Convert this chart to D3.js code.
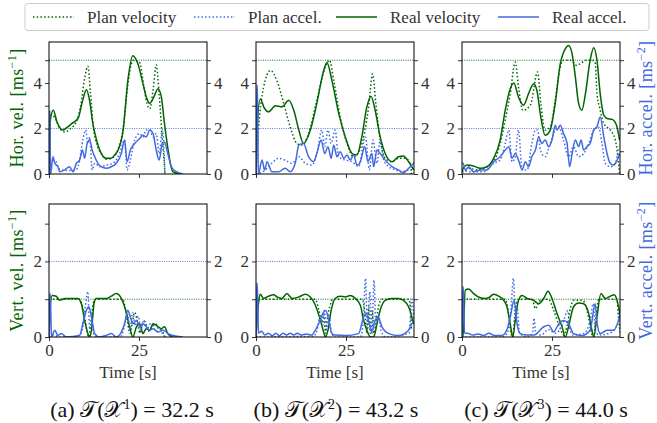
<!DOCTYPE html>
<html>
<head>
<meta charset="utf-8">
<script src="https://cdn.jsdelivr.net/npm/d3@7"></script>
<style>
  body { margin: 0; background: #fff; }
</style>
</head>
<body>
<svg id="chart" width="657" height="423"></svg>
<script>
// ---- data: [time (s), value] ----
// (a) horizontal
const planVelA = [[0,0],[0.3,2.6],[1.5,2.5],[3,2.0],[4.4,1.85],[6,2.0],[7.6,2.3],[8.8,3.0],[10.0,4.3],[10.8,4.73],[11.5,3.6],[12.3,2.1],[13.3,1.3],[14.5,0.9],[16,0.65],[17.5,0.7],[19.2,1.1],[20.6,2.0],[21.9,3.9],[22.8,4.8],[23.5,5.0],[25.2,4.9],[26.3,3.9],[27.2,3.1],[28.0,2.87],[29.0,3.8],[29.8,4.8],[30.6,3.5],[31.5,1.5],[32.1,0.3],[32.2,0]];
const realVelA = [[0,0],[0.4,2.4],[1.2,2.8],[2.2,2.3],[3.9,1.93],[5.0,2.05],[6.2,2.2],[8.1,2.45],[9.3,3.2],[10.4,3.7],[11.2,3.3],[12.2,2.2],[13.2,1.5],[14.1,1.05],[15.9,0.69],[17.3,0.69],[18.3,0.85],[19.2,1.05],[20.6,1.93],[21.9,4.1],[23.3,5.2],[24.7,4.84],[26.1,3.97],[27.2,3.3],[28.0,3.1],[28.9,3.3],[30.3,3.75],[31.2,3.4],[32.1,2.2],[33.1,1.05],[34.4,0.1],[36.3,0]];
const planAccA = [[0,0.6],[1.6,0.6],[3.0,0.2],[5,0.15],[7.6,0.2],[8.5,0.6],[9.4,1.5],[10.2,1.93],[10.8,1.34],[11.3,1.63],[12.0,0.18],[12.7,0.47],[14.1,0.32],[15.9,0.39],[17.8,0.47],[19.6,0.9],[21.0,1.49],[21.7,0.18],[22.6,0.61],[23.8,1.49],[25.2,1.78],[26.1,1.63],[27.0,1.93],[28.0,1.93],[28.9,1.63],[29.8,1.78],[30.6,0.9],[31.5,1.93],[32.1,0.47],[32.2,0]];
const realAccA = [[0.15,0],[0.2,2.8],[0.45,0],[1.1,0.76],[1.6,0.47],[2.5,0.32],[3.0,0.1],[4.3,0.18],[5.7,0.32],[6.7,0.1],[7.6,0.47],[8.5,0.61],[9.3,1.05],[9.9,0.69],[10.6,1.34],[11.3,1.49],[12.0,1.05],[12.7,0.76],[13.6,0.47],[14.5,0.32],[15.9,0.25],[17.3,0.32],[18.7,0.47],[20.1,0.9],[21.0,1.49],[21.7,0.54],[22.6,1.05],[23.8,1.34],[25.2,1.56],[26.1,1.7],[27.0,1.63],[28.0,1.93],[28.9,1.78],[29.8,1.05],[30.6,0.61],[31.5,1.34],[32.1,1.41],[33.0,0.9],[34.0,0.32],[35.4,0.1],[37.2,0]];
// (a) vertical
const planVVA = [[0,0],[0.3,1.0],[2,1.0],[8.5,1.0],[9.5,0.7],[10.5,0.2],[11.0,0],[11.6,0.3],[12.3,0.9],[13,1.0],[20.5,1.0],[21.5,0.6],[22.5,0.1],[23,0.3],[23.8,0.65],[24.6,0.4],[25.3,0.1],[26,0.35],[26.8,0.4],[27.5,0.15],[28.5,0.25],[29.5,0.35],[30.5,0.25],[31.5,0.15],[32.2,0]];
const realVVA = [[0,0],[0.2,0.6],[0.9,1.1],[2.0,1.08],[2.96,0.97],[4.4,1.02],[6.7,1.02],[8.0,1.02],[9.0,0.88],[9.9,0.44],[10.8,0.09],[11.3,0],[11.8,0.18],[12.5,0.88],[13.1,1.02],[15.9,1.02],[17.3,1.08],[18.7,1.15],[20.1,1.02],[21.3,0.71],[22.4,0.27],[23.3,0],[24.3,0.27],[25.2,0.35],[26.1,0.09],[27.0,0.22],[28.0,0.18],[28.9,0.35],[29.8,0.31],[31.2,0.22],[32.1,0.27],[33.0,0.09],[34.4,0]];
const planVAA = [[0,0],[1,0.05],[3,0],[6,0],[8.5,0.05],[9.5,0.3],[10.3,0.97],[10.8,1.2],[11.3,0.2],[11.8,0.5],[12.5,0.05],[14,0],[20,0.02],[21,0.3],[21.8,0.6],[22.5,0.2],[23.2,0.65],[24,0.3],[24.8,0.55],[25.5,0.15],[26.3,0.45],[27.2,0.2],[28.2,0.35],[29.5,0.2],[30.5,0.25],[31.5,0.1],[32.2,0]];
const realVAA = [[0.1,0],[0.2,1.15],[0.35,1.15],[0.7,0],[1.6,0.18],[2.5,0.04],[3.4,0.09],[4.8,0],[8.5,0.04],[9.4,0.35],[10.4,0.71],[11.1,0.8],[11.8,0.53],[12.7,0.09],[14.1,0],[15.9,0.04],[17.3,0.09],[18.7,0],[20.1,0.13],[21.0,0.35],[21.9,0.71],[22.6,0.53],[23.3,0.35],[24.3,0.44],[25.2,0.27],[26.1,0.35],[27.0,0.27],[28.0,0.18],[28.9,0.22],[30.3,0.13],[31.7,0.18],[33.1,0.09],[34.4,0.04],[37.2,0]];

// (b) horizontal
const planVelB = [[0,0],[0.5,1.5],[2.1,3.8],[4.0,4.55],[5.8,4.1],[7.7,3.1],[9.5,2.07],[11.4,1.34],[12.8,1.27],[14.6,1.78],[16.9,3.24],[19.3,4.7],[20.4,5.0],[21.6,4.1],[23.4,2.5],[25.3,1.34],[27.1,0.76],[29.0,1.12],[31.3,2.95],[32.4,4.4],[33.3,3.1],[34.5,1.5],[35.9,0.69],[37.8,0.54],[39.6,0.69],[41.5,0.69],[43.0,0.4],[43.2,0]];
const realVelB = [[0,0],[0.3,2.0],[1.2,3.3],[2.3,2.9],[3.5,2.73],[5.4,3.0],[7.2,2.95],[9.1,3.24],[10.5,2.8],[11.9,1.93],[13.2,1.34],[15.1,1.93],[16.9,3.1],[18.8,4.55],[19.7,4.9],[21.1,4.1],[23.0,2.65],[24.8,1.63],[26.7,0.9],[28.0,0.83],[29.4,1.63],[30.8,2.95],[32.0,3.41],[33.1,2.8],[34.5,1.63],[35.9,0.9],[37.8,0.54],[39.6,0.76],[40.9,0.79],[42.4,0.54],[43.8,0.18]];
const planAccB = [[0,0],[2.6,0.18],[4.4,0.47],[6.3,0.69],[8.1,0.61],[10.0,0.47],[11.9,0.76],[13.7,0.47],[15.5,0.39],[16.9,0.9],[18.3,1.93],[19.1,1.2],[20.0,1.93],[20.9,1.34],[22.0,1.93],[22.9,0.76],[24.8,0.61],[26.7,0.54],[28.5,0.32],[30.4,1.63],[31.5,0.18],[32.5,1.49],[33.6,0.47],[34.5,1.49],[35.5,0.61],[36.9,0.32],[38.7,0.18],[40.6,0.1],[42.4,0.18],[43.2,0.18]];
const realAccB = [[0.1,0],[0.2,3.9],[0.4,3.9],[0.65,0],[1.67,0.61],[2.4,0.18],[3.06,0.54],[4.4,0.1],[6.3,0.1],[8.1,0.25],[9.5,0.1],[10.9,0.47],[11.9,1.27],[13.2,1.34],[14.6,0.76],[16.0,0.54],[16.9,0.9],[18.1,1.49],[19.1,0.9],[20.0,1.2],[20.9,0.69],[21.6,1.27],[22.5,0.76],[23.4,0.98],[24.4,0.69],[25.3,0.83],[26.2,0.61],[27.1,0.83],[28.1,0.39],[29.0,0.54],[30.2,1.2],[31.1,0.54],[32.2,0.9],[32.7,0.32],[33.6,1.05],[34.5,0.9],[35.9,0.61],[37.8,0.32],[39.6,0.18],[41.0,0.06],[42.4,0.25],[43.3,0.39],[43.9,0.5]];
// (b) vertical
const planVVB = [[0,0],[0.5,0.95],[1.2,1.0],[16.5,1.0],[17.5,0.7],[18.3,0.4],[18.8,0.6],[19.3,0.1],[19.8,0.5],[20.5,0.8],[21.3,1.0],[29.5,1.0],[30.3,0.6],[30.8,0.1],[31.3,0.8],[31.8,0.1],[32.3,0.7],[32.8,0.05],[33.5,0.5],[34.3,0.9],[35,1.0],[42.5,1.0],[43.0,0.6],[43.2,0.2]];
const realVVB = [[0,0],[0.74,0.93],[1.2,1.13],[2.1,1.02],[3.5,1.08],[4.9,1.12],[5.8,1.06],[7.2,1.02],[8.6,1.15],[10.0,1.02],[11.9,1.06],[13.7,1.13],[15.1,1.06],[16.5,0.84],[17.9,0.44],[18.8,0.13],[19.3,0],[20.0,0.18],[20.9,0.71],[22.0,1.02],[23.4,1.08],[24.8,1.06],[26.2,1.1],[27.6,1.02],[29.0,0.84],[29.9,0.44],[30.8,0.18],[31.8,0],[32.7,0],[33.6,0.35],[34.5,0.71],[35.9,0.97],[37.8,1.02],[39.6,1.02],[41.0,0.97],[42.4,0.8],[43.3,0.53],[43.8,0.35]];
const planVAB = [[0,0],[16,0.02],[17,0.2],[17.8,0.55],[18.5,0.3],[19,0.7],[19.6,0.2],[20.2,0.6],[21,0.1],[22,0],[29,0],[29.8,0.4],[30.4,1.55],[31,0.2],[31.6,1.2],[32.2,0.1],[32.8,1.5],[33.3,0.3],[34,0.6],[34.8,0.15],[36,0],[42.5,0.1],[43.3,1.0],[43.8,0.5]];
const realVAB = [[0.1,0],[0.2,1.42],[0.35,1.42],[0.7,0.1],[1.5,0.15],[2.5,0.05],[3.5,0.1],[4.5,0.03],[5.5,0.1],[6.5,0.03],[7.5,0.1],[8.5,0.05],[9.5,0.1],[10.5,0.05],[11.5,0.1],[12.5,0.05],[14,0.08],[15.5,0.05],[16.3,0.15],[17.4,0.35],[18.8,0.66],[19.4,0.7],[20.2,0.44],[21.1,0.09],[22,0.05],[24.8,0.04],[28.5,0.09],[29.9,0.53],[30.6,0.62],[31.5,0.35],[32.2,0.13],[33.1,0.44],[33.9,0.53],[35,0.27],[36.9,0.09],[39.6,0.04],[42.4,0.18],[43.3,0.35],[43.9,0.4]];

// (c) horizontal
const planVelC = [[0,0.1],[0.28,0.1],[1.85,0.25],[4.2,0.18],[6.0,0.25],[8.8,0.54],[10.6,1.34],[12.0,2.36],[13.4,3.53],[14.8,4.92],[15.7,3.82],[16.9,2.8],[19.0,3.02],[21.0,4.48],[21.9,3.09],[23.1,1.93],[24.5,2.07],[25.9,3.24],[27.3,4.7],[28.2,5.0],[30.1,5.0],[31.9,4.77],[33.3,4.9],[34.7,5.0],[36.1,5.0],[37.0,4.9],[37.5,3.53],[38.2,2.95],[39.4,2.22],[41.2,1.93],[42.6,1.49],[43.5,0.47],[43.8,0]];
const realVelC = [[0,0.1],[0.3,0.25],[1.4,0.39],[3.2,0.35],[5.1,0.25],[6.9,0.32],[8.8,0.69],[10.6,1.49],[12.0,2.8],[13.4,3.75],[14.4,4.0],[15.7,3.38],[17.1,3.02],[18.5,3.53],[19.9,3.97],[20.8,3.68],[21.9,2.5],[23.1,1.7],[24.5,1.93],[25.9,3.1],[27.3,4.84],[28.7,5.5],[29.6,5.65],[30.6,5.28],[31.5,4.26],[32.4,3.1],[33.3,2.8],[34.3,3.53],[35.6,5.0],[36.6,5.55],[37.5,5.0],[38.4,3.53],[39.4,2.58],[40.3,2.44],[41.7,2.4],[42.9,2.15],[43.8,1.49]];
const planAccC = [[0,0.18],[2.3,0.1],[6.0,0.1],[8.8,0.47],[10.6,0.61],[12.0,1.34],[13.0,1.93],[13.9,0.54],[14.8,0.76],[15.7,1.93],[16.7,0.18],[18.1,0.18],[19.4,1.34],[20.4,1.93],[21.0,1.93],[21.8,1.05],[23.1,0.76],[24.5,1.34],[25.9,1.93],[26.9,2.07],[28.2,1.49],[29.6,0.76],[31.0,1.2],[32.4,0.76],[33.8,0.9],[35.2,1.34],[36.6,1.93],[37.9,2.07],[38.9,1.34],[39.8,0.47],[41.2,0.32],[42.6,0.47],[43.5,1.2]];
const realAccC = [[0,0.47],[0.28,0.47],[0.93,0.18],[1.85,0.32],[3.2,0.1],[5.1,0.18],[6.9,0.18],[8.8,0.54],[10.6,0.76],[12.0,1.05],[13.0,1.2],[13.9,0.69],[14.8,0.9],[15.7,0.61],[16.7,0.18],[17.6,0.54],[18.5,0.32],[19.4,0.76],[20.4,1.05],[21.3,1.63],[22.2,1.34],[23.1,1.49],[24.1,1.2],[25.0,1.49],[25.9,2.14],[26.4,1.93],[27.3,2.14],[28.2,1.78],[29.2,1.34],[29.9,0.32],[30.6,0.9],[31.5,1.49],[32.4,1.2],[33.1,1.49],[33.8,1.05],[34.7,1.2],[35.6,1.34],[36.6,1.93],[37.5,2.07],[38.4,2.51],[39.4,1.63],[40.3,0.9],[41.2,0.47],[42.1,0.39],[43.1,0.61],[43.8,0.9]];
// (c) vertical
const planVVC = [[0,0],[0.5,1.0],[12,1.0],[12.8,0.7],[13.6,0.1],[14.1,0],[14.6,0.5],[15.3,0.95],[16,1.0],[19.5,1.0],[20.4,0.75],[21.5,0.95],[22.5,1.0],[24,1.0],[25.5,0.7],[27,0.3],[28.3,0.05],[29.2,0.3],[30.2,0.8],[31,0.97],[33.5,0.97],[35,0.6],[36,0.1],[36.6,0],[37.3,0.6],[38,1.0],[43,1.0],[43.5,0.5],[44,0.1]];
const realVVC = [[0,0],[0.28,0],[0.9,1.24],[1.85,1.27],[3.2,1.15],[5.1,1.04],[6.5,1.02],[7.4,1.04],[8.8,1.13],[10.2,1.08],[11.6,0.97],[12.5,0.8],[13.4,0.35],[14.1,0],[14.8,0.44],[15.7,0.97],[16.7,1.1],[18.1,1.02],[19.9,0.97],[21.3,0.88],[22.7,1.02],[23.9,1.21],[25.0,1.02],[26.4,0.62],[27.8,0.27],[28.7,0],[29.6,0.27],[31.0,0.8],[32.4,0.9],[33.8,0.88],[35.2,0.62],[36.1,0.18],[36.6,0],[37.5,0.53],[38.6,1.15],[39.8,1.02],[41.2,1.08],[42.3,1.12],[43.1,0.97],[44.0,0.53]];
const planVAC = [[0,0],[3,0],[11,0],[12.5,0.1],[13.5,0.6],[14.3,1.55],[14.8,0.5],[15.3,0.8],[16,0.1],[18,0],[19.6,0.1],[20,0.5],[20.5,0.1],[22,0.05],[24,0.2],[26,0.1],[27.8,0.3],[29.4,0.7],[30,0.2],[31,0.05],[34,0.1],[35.5,0.4],[36.5,0.88],[37,0.2],[38,0.05],[41,0.1],[43,0.3],[44,0.7]];
const realVAC = [[0.1,0],[0.2,1.33],[0.35,1.33],[0.7,0.1],[1.5,0.1],[3,0.05],[4.5,0.08],[6,0.04],[7.5,0.1],[9,0.04],[11,0.04],[12.5,0.2],[13.4,0.53],[14.5,0.97],[15.3,0.35],[16.2,0.09],[18,0.05],[20,0.05],[22.7,0.27],[24.1,0.31],[25.5,0.13],[26.4,0.27],[27.3,0.4],[28.2,0.44],[29.6,0.35],[31.0,0.09],[33.3,0.04],[35.6,0.18],[37.0,0.88],[37.5,0.4],[38.4,0.09],[40.3,0.18],[42.1,0.18],[43.5,0.44],[44,0.62]];

const xTicks = [0, 25];
const captionLetters = ["(a)", "(b)", "(c)"];
const captionSup = ["1", "2", "3"];
const captionTimes = ["32.2", "43.2", "44.0"];
const legendLabels = ["Plan velocity", "Plan accel.", "Real velocity", "Real accel."];

const SERIF = "Liberation Serif, serif";
const GREEN = "#006400", BLUE = "#4169e1", TICK = "#333333";
const COL_X = [49, 256, 462], COL_W = 158, T_MAX = 43.9;

const rows = [
  { top: 42, h: 132, max: 5.8, ticks: [0,1,2,3,4,5], vLim: 5, aLim: 2, lTitle: "Hor. vel. [ms", rTitle: "Hor. accel. [ms" },
  { top: 204, h: 133, max: 3.52, ticks: [0,1,2,3], vLim: 1, aLim: 2, lTitle: "Vert. vel. [ms", rTitle: "Vert. accel. [ms" }
];

const series = [
  [ { pv: planVelA, rv: realVelA, pa: planAccA, ra: realAccA }, { pv: planVVA, rv: realVVA, pa: planVAA, ra: realVAA } ],
  [ { pv: planVelB, rv: realVelB, pa: planAccB, ra: realAccB }, { pv: planVVB, rv: realVVB, pa: planVAB, ra: realVAB } ],
  [ { pv: planVelC, rv: realVelC, pa: planAccC, ra: realAccC }, { pv: planVVC, rv: realVVC, pa: planVAC, ra: realVAC } ]
];

const svg = d3.select("#chart");
const defs = svg.append("defs");

function styleAxis(g) {
  g.attr("font-family", SERIF).attr("font-size", 17);
  g.select(".domain").remove();
  g.selectAll(".tick line").attr("stroke", "#000").attr("stroke-width", 0.8);
  g.selectAll(".tick text").attr("fill", TICK);
}

function drawPanel(ci, ri) {
  const row = rows[ri], d = series[ci][ri];
  const x = d3.scaleLinear().domain([0, T_MAX]).range([COL_X[ci], COL_X[ci] + COL_W]);
  const y = d3.scaleLinear().domain([0, row.max]).range([row.top + row.h, row.top]);
  const id = "clip" + ci + ri;
  defs.append("clipPath").attr("id", id).append("rect")
    .attr("x", COL_X[ci]).attr("y", row.top).attr("width", COL_W).attr("height", row.h);

  const g = svg.append("g").attr("clip-path", "url(#" + id + ")");
  // limit lines
  g.append("line").attr("x1", x(0)).attr("x2", x(T_MAX)).attr("y1", y(row.vLim)).attr("y2", y(row.vLim))
    .attr("stroke", GREEN).attr("stroke-width", 0.9).attr("stroke-dasharray", "1,1.3");
  g.append("line").attr("x1", x(0)).attr("x2", x(T_MAX)).attr("y1", y(row.aLim)).attr("y2", y(row.aLim))
    .attr("stroke", BLUE).attr("stroke-width", 0.9).attr("stroke-dasharray", "1,1.3");

  const line = d3.line().x(p => x(p[0])).y(p => y(p[1])).curve(d3.curveMonotoneX);
  const draw = (data, color, dotted) => g.append("path").datum(data)
    .attr("d", line).attr("fill", "none").attr("stroke", color)
    .attr("stroke-width", 1.5).attr("stroke-dasharray", dotted ? "1.5,2.2" : null)
    .attr("stroke-linejoin", "round");
  draw(d.pv, GREEN, true);
  draw(d.rv, GREEN, false);
  draw(d.pa, BLUE, true);
  draw(d.ra, BLUE, false);

  svg.append("rect").attr("x", COL_X[ci]).attr("y", row.top).attr("width", COL_W).attr("height", row.h)
    .attr("fill", "none").attr("stroke", "#000").attr("stroke-width", 1);

  const fmt = v => (v % 2 === 0 ? v : "");
  svg.append("g").attr("transform", `translate(${COL_X[ci]},0)`)
    .call(d3.axisLeft(y).tickValues(row.ticks).tickFormat(fmt).tickSize(4).tickPadding(3)).call(styleAxis);
  svg.append("g").attr("transform", `translate(${COL_X[ci] + COL_W},0)`)
    .call(d3.axisRight(y).tickValues(row.ticks).tickFormat(fmt).tickSize(4).tickPadding(3)).call(styleAxis);
  svg.append("g").attr("transform", `translate(0,${row.top + row.h})`)
    .call(d3.axisBottom(x).tickValues(xTicks).tickSize(4).tickPadding(3)
      .tickFormat(ri === 1 ? d3.format("d") : () => "")).call(styleAxis);

  if (ri === 1) {
    svg.append("text").attr("x", COL_X[ci] + COL_W / 2).attr("y", 378)
      .attr("text-anchor", "middle").attr("font-family", SERIF).attr("font-size", 17)
      .attr("fill", TICK).text("Time [s]");
  }
}

for (let ci = 0; ci < 3; ci++) for (let ri = 0; ri < 2; ri++) drawPanel(ci, ri);

// axis titles
function vTitle(xPos, row, main, sup, color) {
  const cy = row.top + row.h / 2;
  const t = svg.append("text").attr("transform", `translate(${xPos},${cy}) rotate(-90)`)
    .attr("text-anchor", "middle").attr("fill", color).attr("font-family", SERIF)
    .attr("font-size", 18).attr("letter-spacing", 0.4);
  t.append("tspan").text(main);
  t.append("tspan").attr("dy", -7).attr("font-size", 12).text(sup);
  t.append("tspan").attr("dy", 7).text("]");
}
rows.forEach(r => {
  vTitle(23, r, r.lTitle, "\u22121", GREEN);
  vTitle(652, r, r.rTitle, "\u22122", BLUE);
});

// legend
const lg = svg.append("g");
lg.append("rect").attr("x", 25).attr("y", 3.5).attr("width", 624).attr("height", 27).attr("rx", 3)
  .attr("fill", "#fff").attr("stroke", "#cccccc").attr("stroke-width", 1);
const legendX = [33, 194, 336, 498];
const legendStyle = [[GREEN, true], [BLUE, true], [GREEN, false], [BLUE, false]];
legendLabels.forEach((lab, i) => {
  lg.append("line").attr("x1", legendX[i]).attr("x2", legendX[i] + 41).attr("y1", 17).attr("y2", 17)
    .attr("stroke", legendStyle[i][0]).attr("stroke-width", 1.5)
    .attr("stroke-dasharray", legendStyle[i][1] ? "1.5,2.2" : null);
  lg.append("text").attr("x", legendX[i] + 54).attr("y", 22.5).attr("font-family", SERIF)
    .attr("font-size", 17).attr("fill", TICK).text(lab);
});

// captions
const MATH = "DejaVu Serif, DejaVu Sans, serif";
const captionX = [132, 336, 546];
captionLetters.forEach((c, i) => {
  const t = svg.append("text").attr("x", captionX[i]).attr("y", 417)
    .attr("text-anchor", "middle").attr("font-family", SERIF).attr("font-size", 22).attr("fill", "#111");
  t.append("tspan").text(c + " ");
  t.append("tspan").attr("font-family", MATH).text("\u{1D4AF}");
  t.append("tspan").text("(");
  t.append("tspan").attr("font-family", MATH).text("\u{1D4B3}");
  t.append("tspan").attr("dy", -8).attr("font-size", 14).text(captionSup[i]);
  t.append("tspan").attr("dy", 8).text(") = " + captionTimes[i] + " s");
});
</script>
</body>
</html>
